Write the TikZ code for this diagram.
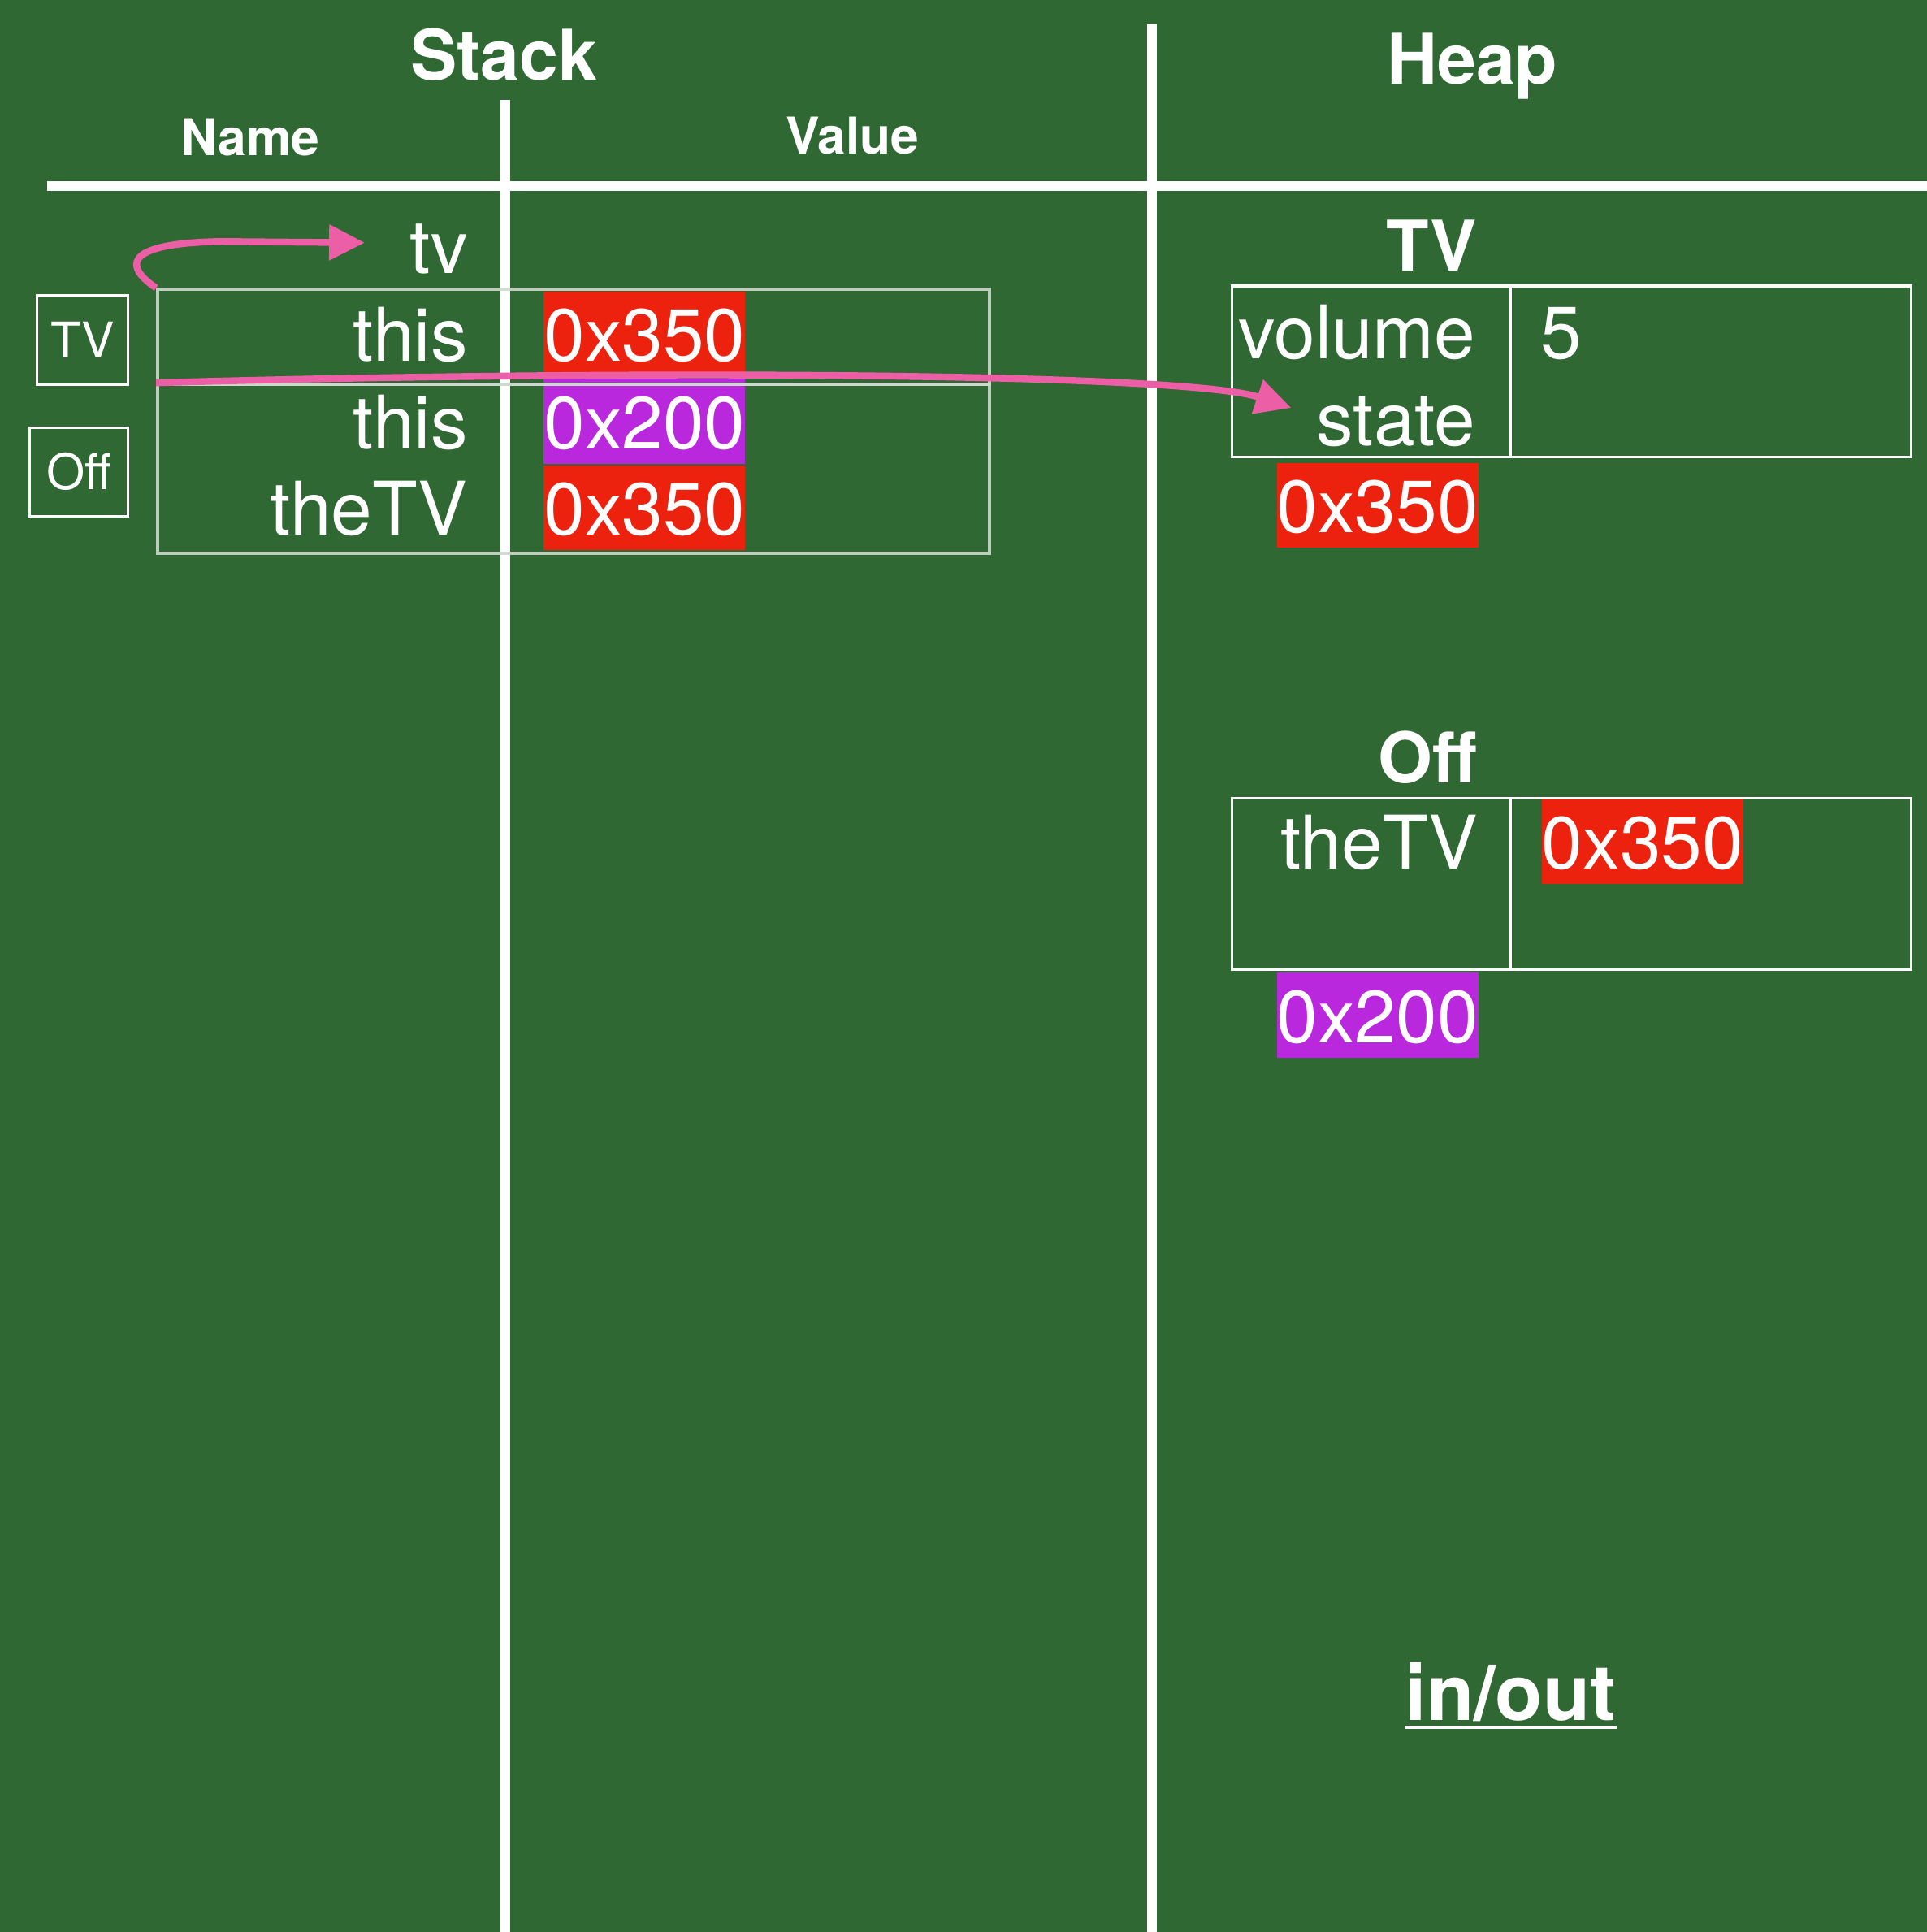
\documentclass[tikz,border=0pt]{standalone}
\usepackage{fontspec}
\setmainfont{TeX Gyre Heros}
\usetikzlibrary{arrows.meta}
\definecolor{board}{RGB}{47,104,51}
\definecolor{valred}{RGB}{236,34,14}
\definecolor{valpurple}{RGB}{186,40,222}
\definecolor{arrowpink}{RGB}{236,94,166}
\definecolor{framegray}{RGB}{205,218,205}
\begin{document}
\begin{tikzpicture}[x=0.45pt,y=-0.45pt,
  big/.style={font=\fontsize{27}{30}\selectfont, text=white, inner sep=0pt},
  nm/.style={big, anchor=base east},
  val/.style={big, anchor=base west, text height=25.4pt, text depth=5.6pt},
  hdr/.style={font=\bfseries\fontsize{25.5}{28}\selectfont, text=white, inner sep=0pt, anchor=base},
  sub/.style={font=\bfseries\fontsize{18.5}{20}\selectfont, text=white, inner sep=0pt, anchor=base},
  boardline/.style={white, line width=3.6pt},
  heapbox/.style={draw=white, line width=1pt},
  framebox/.style={draw=framegray, draw opacity=0.9, line width=1.2pt, inner sep=0pt, minimum width=303.75pt},
  labbox/.style={draw=white, line width=0.9pt, font=\fontsize{18}{20}\selectfont, text=white, inner sep=0pt, minimum height=32.4pt},
  pinkarrow/.style={draw=arrowpink, line width=2.5pt, -{Triangle[length=13pt,width=12.6pt]}}
]
\fill[board] (0,0) rectangle (1564,1568);
\useasboundingbox (0,0) rectangle (1564,1568);

% board lines
\coordinate (hl) at (38,151);
\coordinate (hr) at (1564,151);
\coordinate (st) at (410,81);
\coordinate (sb) at (410,1568);
\coordinate (ht) at (935,20);
\coordinate (hb) at (935,1568);
\draw[boardline] (hl) -- (hr);
\draw[boardline] (st) -- (sb);
\draw[boardline] (ht) -- (hb);

% headers
\node[hdr] (stack) at (409,65) {Stack};
\node[hdr] (heap) at (1195,68) {Heap};
\node[sub] (name) at (203,126) {Name};
\node[sub] (value) at (692,125) {Value};

% stack values
\node[val, fill=valred] (v1) at (441,293) {0x350};
\node[val, fill=valpurple] (v2) at (441,364) {0x200};
\node[val, fill=valred] (v3) at (441,434) {0x350};

% stack frames
\node[framebox, minimum height=34.65pt] (tvframe) at (465.5,273.5) {};
\node[framebox, minimum height=61.65pt] (offframe) at (465.5,380.5) {};

% stack names
\node[nm] (tv) at (380,222) {tv};
\node[nm] (this1) at (380,293) {this};
\node[nm] (this2) at (380,364) {this};
\node[nm] (thetv1) at (380,434) {theTV};

% frame labels
\node[labbox, minimum width=33.3pt] (tvlab) at (67,276) {TV};
\node[labbox, minimum width=36pt] (offlab) at (64,383) {Off};

% heap: TV object
\node[hdr] (tvhdr) at (1162,220) {TV};
\node[heapbox, minimum width=247.95pt, minimum height=62.55pt, inner sep=0pt] (tvbox) at (1275.5,301.5) {};
\coordinate (d1t) at (1226,232);
\coordinate (d1b) at (1226,371);
\draw[white, line width=1pt] (d1t) -- (d1b);
\node[nm] (volume) at (1198,291) {volume};
\node[nm] (state) at (1198,361.5) {state};
\node[big, anchor=base west] (five) at (1250,291) {5};
\node[val, fill=valred] (h1) at (1036,432) {0x350};

% heap: Off object
\node[hdr] (offhdr) at (1159,635) {Off};
\node[heapbox, minimum width=247.95pt, minimum height=62.55pt, inner sep=0pt] (offbox) at (1275.5,717.5) {};
\coordinate (d2t) at (1226,648);
\coordinate (d2b) at (1226,787);
\draw[white, line width=1pt] (d2t) -- (d2b);
\node[nm] (thetv2) at (1200,705.5) {theTV};
\node[val, fill=valred] (h2) at (1251,705) {0x350};
\node[val, fill=valpurple] (h3) at (1036,846) {0x200};

% in/out
\node[font=\bfseries\fontsize{28.3}{30}\selectfont, text=white, inner sep=0pt, anchor=base] (inout) at (1226,1396) {in/out};
\draw[white, line width=1.3pt] ([yshift=-2.7pt]inout.base west) -- ([yshift=-2.7pt]inout.base east);

% arrows
\coordinate (tvtip) at (296,197);
\coordinate (statetip) at (1048,331);
\draw[pinkarrow] (tvframe.north west) .. controls (95,212) and (110,197) .. (180,196) -- (tvtip);
\draw[pinkarrow] (offframe.north west) .. controls (500,300) and (960,302) .. (statetip);
\end{tikzpicture}
\end{document}
